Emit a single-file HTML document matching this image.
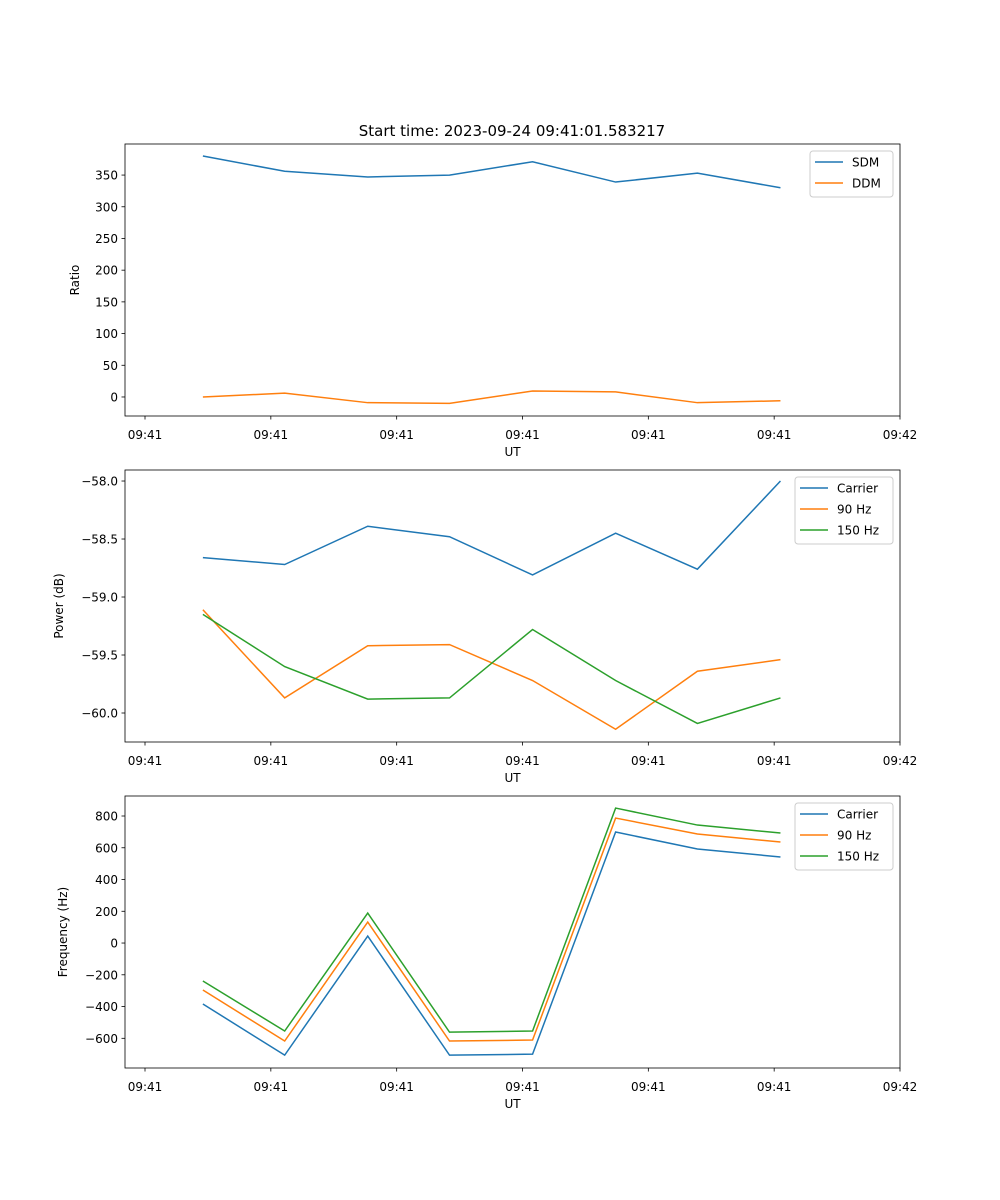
<!DOCTYPE html>
<html><head><meta charset="utf-8"><style>body{margin:0;background:#fff}svg{display:block;font-family:"DejaVu Sans","Liberation Sans",sans-serif}</style></head>
<body>
<svg id="fig" width="1000" height="1200" viewBox="0 0 1000 1200">
<rect width="1000" height="1200" fill="#fff"/>
<text x="512" y="136" text-anchor="middle" font-size="15">Start time: 2023-09-24 09:41:01.583217</text>
</svg>
<script>
const times = [0.46, 1.11, 1.77, 2.42, 3.08, 3.74, 4.39, 5.05];
const xTickVals = [0, 1, 2, 3, 4, 5, 6];
const xTickLabels = ["09:41","09:41","09:41","09:41","09:41","09:41","09:42"];
const sdm = [380, 356, 347, 350, 371, 339, 353, 330];
const ddm = [0, 6, -9, -10, 9.5, 8, -9, -6];
const powCarrier = [-58.66, -58.72, -58.39, -58.48, -58.81, -58.45, -58.76, -58.0];
const pow90 = [-59.11, -59.87, -59.42, -59.41, -59.72, -60.14, -59.64, -59.54];
const pow150 = [-59.15, -59.60, -59.88, -59.87, -59.28, -59.72, -60.09, -59.87];
const freqCarrier = [-384, -706, 44, -706, -700, 699, 592, 542];
const freq90 = [-296, -617, 132, -617, -611, 787, 687, 636];
const freq150 = [-239, -554, 189, -561, -554, 850, 743, 693];
const ratioTicks = [0, 50, 100, 150, 200, 250, 300, 350];
const powTicks = [-58.0, -58.5, -59.0, -59.5, -60.0];
const freqTicks = [-600, -400, -200, 0, 200, 400, 600, 800];

const NS="http://www.w3.org/2000/svg", svg=document.getElementById('fig');
const C=["#1f77b4","#ff7f0e","#2ca02c"];
function mk(t,a,p){const e=document.createElementNS(NS,t);for(const k in a)e.setAttribute(k,a[k]);(p||svg).appendChild(e);return e;}
const L=125,R=900,xmin=-0.159,xmax=6.0;
const xs=v=>L+(v-xmin)/(xmax-xmin)*(R-L);

function panel(name,top,bot,ymin,ymax,ticks,fmt,ylabel,series,names,legend){
  const g=mk('g',{});
  
  
  const ys=v=>bot-(v-ymin)/(ymax-ymin)*(bot-top);
  series.forEach((s,i)=>{
    const p=mk('polyline',{points:s.map((v,j)=>xs(times[j])+','+ys(v)).join(' '),fill:'none',stroke:C[i],'stroke-width':1.5},g);
    
    
  });
  mk('rect',{x:L,y:top,width:R-L,height:bot-top,fill:'none',stroke:'#000','stroke-width':0.8},g);
  xTickVals.forEach((v,i)=>{const x=xs(v);
    mk('line',{x1:x,x2:x,y1:bot,y2:bot+3.5,stroke:'#000','stroke-width':0.8},g);
    const t=mk('text',{x:x,y:bot+23,'text-anchor':'middle','font-size':12},g);t.textContent=xTickLabels[i];
    });
  ticks.forEach(v=>{const y=ys(v);
    mk('line',{x1:L,x2:L-3.5,y1:y,y2:y,stroke:'#000','stroke-width':0.8},g);
    const t=mk('text',{x:L-7,y:y+4.5,'text-anchor':'end','font-size':12},g);t.textContent=fmt(v);
    });
  const xl=mk('text',{x:(L+R)/2,y:bot+40,'text-anchor':'middle','font-size':12},g);xl.textContent='UT';
  
  const yx=legend.yl, yy=(top+bot)/2;
  const yl=mk('text',{x:yx,y:yy,'text-anchor':'middle','font-size':12,transform:`rotate(-90 ${yx} ${yy})`},g);yl.textContent=ylabel;
  
  const lg=mk('g',{},g);
  
  mk('rect',{x:legend.x,y:top+7,width:R-7-legend.x,height:names.length*21+4,fill:'#fff',stroke:'#ccc',rx:3},lg);
  names.forEach((n,i)=>{const y=top+18+i*21;
    mk('line',{x1:legend.x+5,x2:legend.x+33,y1:y,y2:y,stroke:C[i],'stroke-width':1.5},lg);
    const t=mk('text',{x:legend.x+42,y:y+4.5,'font-size':12},lg);t.textContent=n;
    });
}
panel('ratio',144,416,-30,399,ratioTicks,v=>String(v),'Ratio',[sdm,ddm],['SDM','DDM'],{x:810,yl:79});
panel('power',470,742,-60.25,-57.905,powTicks,v=>'\u2212'+Math.abs(v).toFixed(1),'Power (dB)',[powCarrier,pow90,pow150],['Carrier','90 Hz','150 Hz'],{x:795,yl:63});
panel('frequency',796,1068,-787,926,freqTicks,v=>(v<0?'\u2212':'')+Math.abs(v),'Frequency (Hz)',[freqCarrier,freq90,freq150],['Carrier','90 Hz','150 Hz'],{x:795,yl:67});
</script>
</body></html>
